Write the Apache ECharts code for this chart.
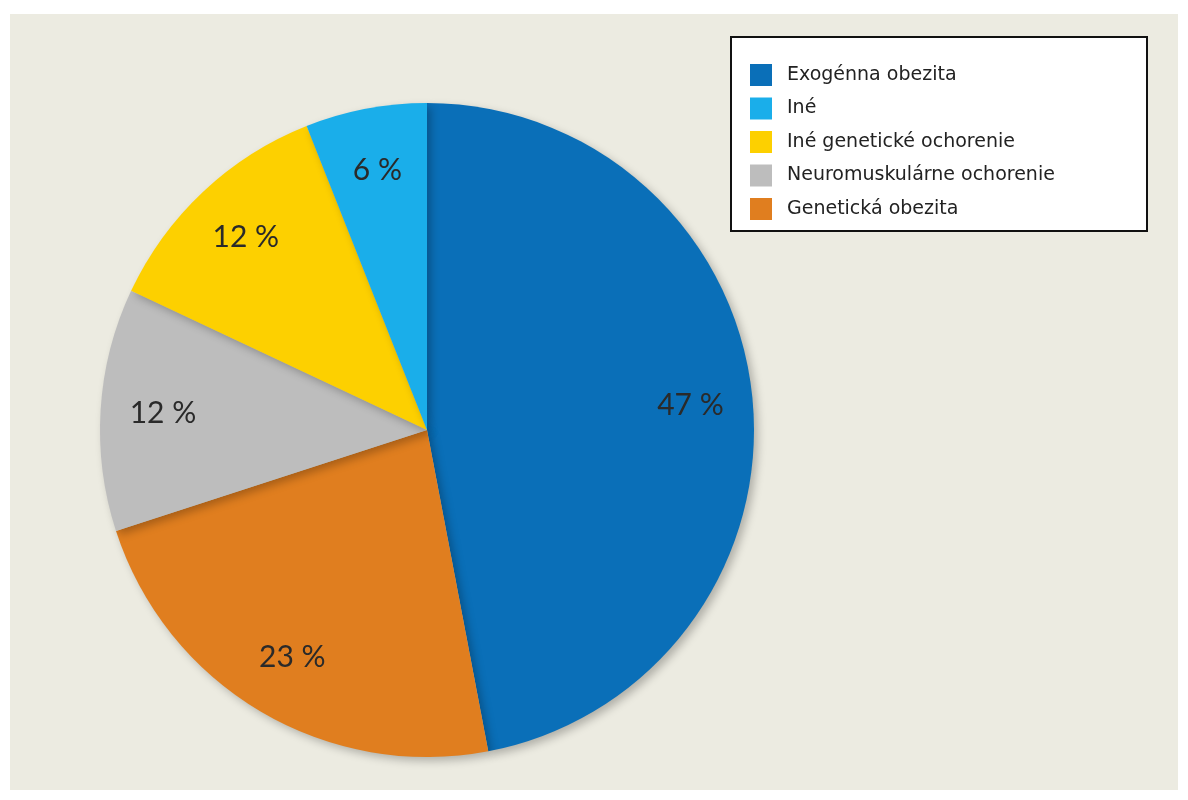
<!DOCTYPE html>
<html><head><meta charset="utf-8">
<script src="https://cdn.jsdelivr.net/npm/echarts@6/dist/echarts.min.js"></script>
<style>html,body{margin:0;padding:0;background:#fff}#c{width:1188px;height:800px}</style>
</head><body><div id="c"></div>
<script>
const categories = ['Exogénna obezita','Genetická obezita','Neuromuskulárne ochorenie','Iné genetické ochorenie','Iné'];
const values = [47,23,12,12,6];
const colors = ['#0a6fb8','#e07e1f','#bdbdbd','#fdd000','#1aaeea'];
const legendOrder = ['Exogénna obezita','Iné','Iné genetické ochorenie','Neuromuskulárne ochorenie','Genetická obezita'];

const R = 327;
const chart = echarts.init(document.getElementById('c'));
chart.setOption({
  animation:false,
  backgroundColor:'#fff',
  graphic:[
    {type:'rect',shape:{x:10,y:14,width:1168,height:776},style:{fill:'#ecebe1'},z:-10},
    {type:'rect',shape:{x:731,y:37,width:416,height:194},style:{fill:'#fff',stroke:'#111',lineWidth:2},z:-5}
  ],
  legend:{
    orient:'vertical',left:745,top:59,itemWidth:22,itemHeight:22,itemGap:11.5,
    data:legendOrder,icon:'rect',
    textStyle:{fontFamily:'DejaVu Sans',fontSize:19,color:'#222',padding:[0,0,0,10]}
  },
  series:[
    {type:'pie',center:[427,430],radius:[0,R],startAngle:90,clockwise:true,
     data:categories.map((n,i)=>({name:n,value:values[i],itemStyle:{color:colors[i]}})),
     label:{show:false},labelLine:{show:false},
     itemStyle:{shadowBlur:8,shadowOffsetX:4,shadowOffsetY:4,shadowColor:'rgba(0,0,0,0.25)'},
     emphasis:{disabled:true}},
    {type:'pie',center:[427,430],radius:[R*0.6,R],startAngle:90,clockwise:true,silent:true,
     data:categories.map((n,i)=>({name:n+' ',value:values[i],itemStyle:{color:'rgba(0,0,0,0)'}})),
     label:{show:true,position:'inside',formatter:'{c} %',fontFamily:'Lato',fontSize:30,color:'#2a2a2a'},
     labelLine:{show:false}}
  ]
});
</script></body></html>
